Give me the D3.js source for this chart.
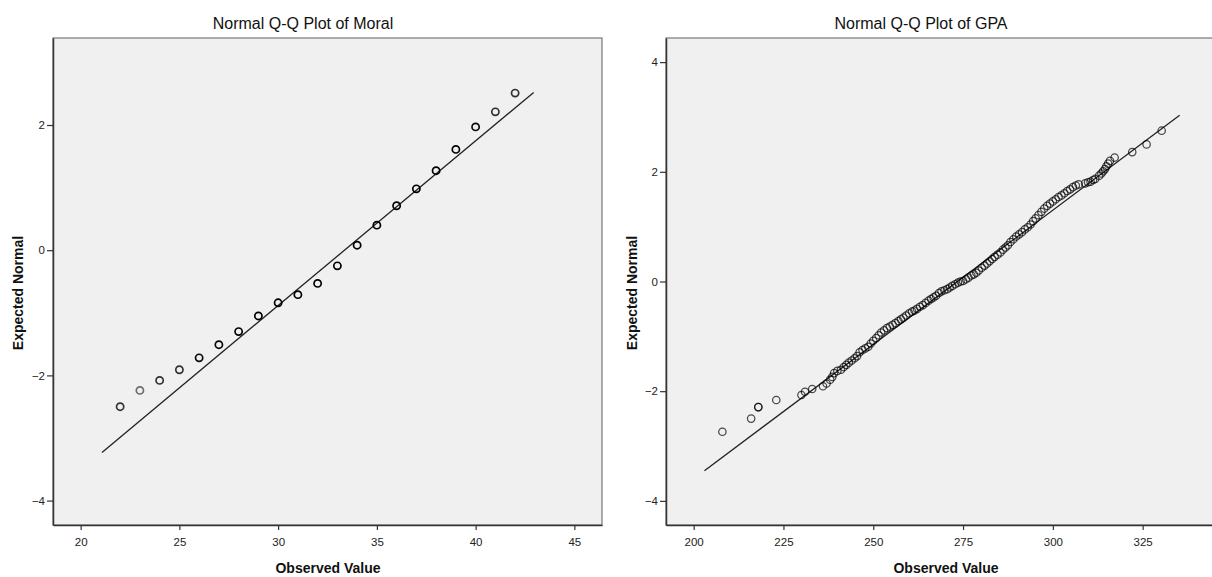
<!DOCTYPE html>
<html>
<head>
<meta charset="utf-8">
<script src="https://cdn.jsdelivr.net/npm/d3@7"></script>
<style>
  body { margin: 0; background: #fff; }
  text { font-family: "Liberation Sans", Arial, sans-serif; }
</style>
</head>
<body>
<div id="content"></div>
<script>
// Moral: observed score, expected normal value, number of cases at that score
var moralScores = [22, 23, 24, 25, 26, 27, 28, 29, 30, 31, 32, 33, 34, 35, 36, 37, 38, 39, 40, 41, 42];
var moralExpected = [-2.50, -2.24, -2.08, -1.91, -1.72, -1.51, -1.30, -1.05, -0.84, -0.71, -0.53,
                     -0.25, 0.08, 0.40, 0.71, 0.98, 1.27, 1.61, 1.97, 2.21, 2.51];
var moralCount = [2, 1, 2, 2, 4, 5, 8, 10, 9, 10, 16, 23, 25, 23, 18, 14, 11, 8, 4, 2, 2];
var moralLineX = [21.08, 42.94];
var moralLineY = [-3.23, 2.52];
var moralXTicks = [20, 25, 30, 35, 40, 45];
var moralYTicks = [-4, -2, 0, 2];

// GPA: observed value, expected normal value
var gpaObserved = [208, 216, 218, 218, 223, 230, 231, 233, 236, 237, 238, 238.6, 239.1, 240, 241, 241.8,
  242.5, 243.2, 244, 244.8, 245.5, 246.2, 247, 247.8, 248.6, 249.3, 250, 250.8, 251.5, 252.2, 253, 253.8,
  254.6, 255.4, 256.2, 257, 257.7, 258.4, 259.2, 260, 260.8, 261.5, 262.2, 263, 263.8, 264.6, 265.4, 266.1,
  266.8, 267.5, 268.3, 269, 269.8, 270.6, 271.3, 272, 272.8, 273.6, 274.3, 275, 275.8, 276.5, 277.3, 278,
  278.7, 279.4, 280.2, 281, 281.7, 282.4, 283.1, 283.8, 284.6, 285.4, 286.1, 286.8, 287.5, 288.2, 289,
  289.8, 290.6, 291.4, 292.2, 293, 293.8, 294.5, 295.2, 296, 296.8, 297.6, 298.4, 299.2, 300, 300.8, 301.6,
  302.4, 303.2, 304, 304.8, 305.6, 306.4, 307.2, 309, 309.8, 310.5, 311.2, 311.8, 312.9, 313.5, 314, 314.5,
  314.9, 315.4, 315.9, 317.2, 322.1, 326.1, 330.3];
var gpaExpected = [-2.74, -2.50, -2.29, -2.29, -2.16, -2.07, -2.01, -1.96, -1.91, -1.86, -1.79, -1.74, -1.67,
  -1.63, -1.61, -1.56, -1.52, -1.48, -1.44, -1.40, -1.36, -1.29, -1.25, -1.22, -1.19, -1.13, -1.08, -1.03,
  -0.98, -0.93, -0.89, -0.85, -0.82, -0.79, -0.76, -0.72, -0.69, -0.66, -0.62, -0.58, -0.55, -0.53, -0.50,
  -0.46, -0.43, -0.39, -0.35, -0.32, -0.29, -0.26, -0.21, -0.18, -0.16, -0.14, -0.11, -0.08, -0.05, -0.02,
  0.00, 0.01, 0.04, 0.07, 0.11, 0.13, 0.16, 0.20, 0.25, 0.29, 0.33, 0.37, 0.41, 0.45, 0.49, 0.53, 0.58,
  0.62, 0.66, 0.72, 0.77, 0.82, 0.86, 0.90, 0.95, 0.99, 1.04, 1.10, 1.15, 1.21, 1.27, 1.33, 1.38, 1.42,
  1.46, 1.50, 1.54, 1.57, 1.61, 1.65, 1.68, 1.72, 1.75, 1.77, 1.79, 1.81, 1.82, 1.85, 1.87, 1.93, 1.97,
  2.01, 2.05, 2.10, 2.15, 2.20, 2.26, 2.36, 2.50, 2.75];
var gpaLineX = [203.0, 335.3];
var gpaLineY = [-3.45, 3.03];
var gpaXTicks = [200, 225, 250, 275, 300, 325];
var gpaYTicks = [-4, -2, 0, 2, 4];

var w = 1212;
var h = 577;

var svg = d3.select("#content")
            .append("svg")
            .attr("width", w)
            .attr("height", h)
            .style("display", "block");

var tickFont = "'Liberation Sans Narrow', 'Arial Narrow', 'Liberation Sans', sans-serif";

function drawPanel(p) {
    var x = d3.scaleLinear().domain(p.xDomain).range([p.left, p.right]);
    var y = d3.scaleLinear().domain(p.yDomain).range([p.bottom, p.top]);

    var g = svg.append("g");

    g.append("rect")
     .attr("x", p.left)
     .attr("y", p.top)
     .attr("width", p.right - p.left)
     .attr("height", p.bottom - p.top)
     .attr("fill", "#f0f0f0")
     .attr("stroke", "#777")
     .attr("stroke-width", 1.2);

    var xAxis = g.append("g")
        .attr("transform", "translate(0," + p.bottom + ")")
        .call(d3.axisBottom(x).tickValues(p.xTicks).tickSize(5).tickSizeOuter(0).tickPadding(8));

    var yAxis = g.append("g")
        .attr("transform", "translate(" + p.left + ",0)")
        .call(d3.axisLeft(y).tickValues(p.yTicks).tickSize(6).tickSizeOuter(0).tickPadding(2));

    [xAxis, yAxis].forEach(function(a) {
        a.select(".domain").attr("stroke", "#333").attr("stroke-width", 1.5);
        a.selectAll(".tick line").attr("stroke", "#333").attr("stroke-width", 1.2);
        a.selectAll(".tick text")
         .attr("fill", "#222")
         .style("font-family", tickFont)
         .style("font-size", "11.5px");
    });

    // fitted reference line
    g.append("line")
     .attr("x1", x(p.lineX[0]))
     .attr("y1", y(p.lineY[0]))
     .attr("x2", x(p.lineX[1]))
     .attr("y2", y(p.lineY[1]))
     .attr("stroke", "#222")
     .attr("stroke-width", 1.3);

    var pts = p.xs.map(function(d, i) {
        return {x: d, y: p.ys[i], n: p.counts ? p.counts[i] : 1};
    });

    g.append("g")
     .selectAll("circle")
     .data(pts)
     .enter()
     .append("circle")
     .attr("cx", function(d) { return x(d.x); })
     .attr("cy", function(d) { return y(d.y); })
     .attr("r", p.r)
     .attr("fill", "none")
     .attr("stroke", "#000")
     .attr("stroke-width", p.sw)
     .attr("stroke-opacity", function(d) { return 1 - Math.pow(1 - p.alpha, d.n); });

    svg.append("text")
       .attr("x", p.titleX)
       .attr("y", 29)
       .attr("text-anchor", "middle")
       .attr("fill", "#111")
       .style("font-size", "16px")
       .text(p.title);

    svg.append("text")
       .attr("x", p.xLabelX)
       .attr("y", 573)
       .attr("text-anchor", "middle")
       .attr("fill", "#111")
       .style("font-size", "14px")
       .style("font-weight", "bold")
       .text("Observed Value");

    svg.append("text")
       .attr("transform", "translate(" + p.yLabelX + "," + p.yLabelY + ") rotate(-90)")
       .attr("text-anchor", "middle")
       .attr("fill", "#111")
       .style("font-size", "14px")
       .style("font-weight", "bold")
       .text("Expected Normal");
}

drawPanel({
    title: "Normal Q-Q Plot of Moral",
    xs: moralScores, ys: moralExpected, counts: moralCount,
    lineX: moralLineX, lineY: moralLineY,
    xTicks: moralXTicks, yTicks: moralYTicks,
    xDomain: [18.6, 46.4], yDomain: [-4.39, 3.39],
    left: 53, right: 602, top: 38, bottom: 525,
    r: 3.6, sw: 1.7, alpha: 0.55,
    titleX: 303, xLabelX: 328, yLabelX: 23, yLabelY: 293
});

drawPanel({
    title: "Normal Q-Q Plot of GPA",
    xs: gpaObserved, ys: gpaExpected,
    lineX: gpaLineX, lineY: gpaLineY,
    xTicks: gpaXTicks, yTicks: gpaYTicks,
    xDomain: [192.3, 345.7], yDomain: [-4.44, 4.44],
    left: 666, right: 1217, top: 38, bottom: 525,
    r: 3.7, sw: 1.25, alpha: 0.7,
    titleX: 921, xLabelX: 946, yLabelX: 637, yLabelY: 293
});
</script>
</body>
</html>
